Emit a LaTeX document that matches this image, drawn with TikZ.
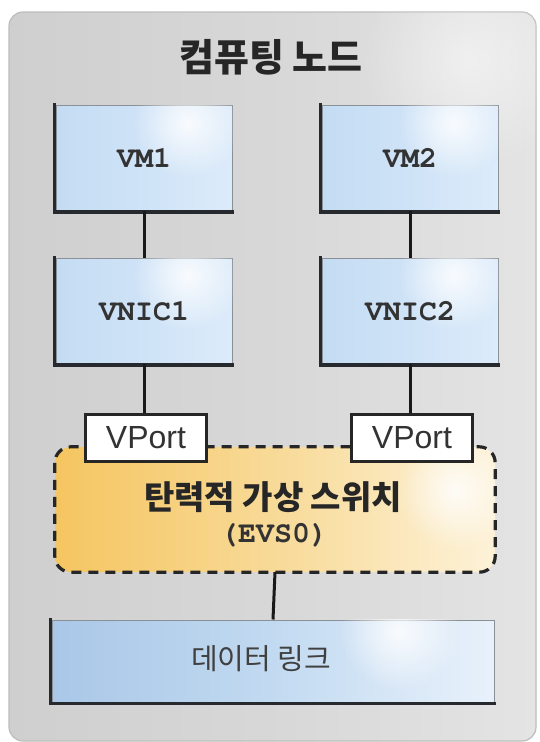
\documentclass[tikz,border=0pt]{standalone}
\usepackage{fontspec}
\newfontfamily\krfont{Noto Sans CJK KR}
\newfontfamily\monofont{TeX Gyre Cursor}
\newfontfamily\labelsans{Liberation Sans}
\usetikzlibrary{fadings}
\tikzfading[name=glowfade, inner color=transparent!0, outer color=transparent!100]
\definecolor{frameedge}{HTML}{BDBDBD}
\definecolor{frameleft}{HTML}{CFCFCF}
\definecolor{frameright}{HTML}{E4E4E4}
\definecolor{vmleft}{HTML}{C4DCF3}
\definecolor{vmmid}{HTML}{CFE3F7}
\definecolor{vmright}{HTML}{DCEBFA}
\definecolor{swleft}{HTML}{F5C560}
\definecolor{swmid}{HTML}{F8DA98}
\definecolor{swright}{HTML}{FDF2D8}
\definecolor{dlleft}{HTML}{A9C7E7}
\definecolor{dlmid}{HTML}{C2DAF1}
\definecolor{dlright}{HTML}{E8F1FB}
\definecolor{edgeline}{HTML}{8A9096}
\definecolor{shadowline}{HTML}{262A2E}
\tikzset{
  vmbox/.style={rectangle, minimum width=176pt, minimum height=105pt,
    left color=vmleft, right color=vmright, middle color=vmmid,
    draw=edgeline, line width=1pt, inner sep=0pt},
  vmlabel/.style={font=\monofont\bfseries\fontsize{30}{33}\selectfont, text=black!80},
  portbox/.style={rectangle, minimum width=121pt, minimum height=47pt,
    fill=white, draw=black!85, line width=3pt, inner sep=0pt,
    font=\labelsans\fontsize{32}{34}\selectfont, text=black!80},
  wire/.style={line width=3pt, black!90},
  shadowedge/.style={line width=3.4pt, draw=shadowline, line cap=rect},
  glow/.style={fill=white, path fading=glowfade, opacity=0.85},
}
\begin{document}
\begin{tikzpicture}[x=1pt, y=-1pt]
\useasboundingbox (0,0) rectangle (539,742);
\fill[white] (0,0) rectangle (539,742);

% compute node frame
\path[left color=frameleft, right color=frameright, middle color=frameleft!60!frameright,
      draw=frameedge, line width=1.2pt, rounded corners=14pt]
  (9,12) rectangle (536,741);
\begin{scope}
  \clip[rounded corners=14pt] (9,12) rectangle (536,741);
  \fill[glow, opacity=0.5] (470,60) circle (110pt);
\end{scope}
\node[font=\krfont\bfseries\fontsize{38}{40}\selectfont, text=black!85] (title) at (271,57) {컴퓨팅 노드};

% virtual machines and their VNICs
\node[vmbox] (vm1) at (144,158) {};
\node[vmbox] (vm2) at (410,158) {};
\node[vmbox] (vnic1) at (144,311) {};
\node[vmbox] (vnic2) at (410,311) {};

% elastic virtual switch
\node[rectangle, rounded corners=16pt, minimum width=440pt, minimum height=125pt,
      left color=swleft, right color=swright, middle color=swmid,
      draw=none, inner sep=0pt] (evs) at (275,509.5) {};
\begin{scope}
  \clip[rounded corners=16pt] (evs.north west) rectangle (evs.south east);
  \fill[glow] (455,490) circle (60pt);
\end{scope}
\draw[rounded corners=16pt, draw=black!85, line width=3.2pt, dash pattern=on 10pt off 7pt]
  (evs.north west) rectangle (evs.south east);

% data link
\node[rectangle, minimum width=442pt, minimum height=82pt,
      left color=dlleft, right color=dlright, middle color=dlmid,
      draw=edgeline, line width=1pt, inner sep=0pt] (dl) at (273,661) {};

% soft highlights near the upper right of the boxes
\foreach \boxname in {vm1,vm2,vnic1,vnic2}{
  \begin{scope}
    \clip (\boxname.north west) rectangle (\boxname.south east);
    \fill[glow] ([xshift=-45pt,yshift=-18pt]\boxname.north east) circle (55pt);
  \end{scope}
}
\begin{scope}
  \clip (dl.north west) rectangle (dl.south east);
  \fill[glow] ([xshift=-95pt,yshift=-12pt]dl.north east) circle (60pt);
\end{scope}

% box labels
\node[vmlabel] (vm1text) at (vm1) {VM1};
\node[vmlabel] (vm2text) at (vm2) {VM2};
\node[vmlabel] (vnic1text) at (vnic1) {VNIC1};
\node[vmlabel] (vnic2text) at (vnic2) {VNIC2};
\node[font=\krfont\bfseries\fontsize{33}{36}\selectfont, text=black!85] (evsname) at (273,497) {탄력적 가상 스위치};
\node[font=\monofont\bfseries\fontsize{30}{32}\selectfont, text=black!80] (evsid) at (274,535) {(EVS0)};
\node[font=\krfont\fontsize{29}{31}\selectfont, text=black!75] (dltext) at (261,659) {데이터 링크};

% virtual ports
\node[portbox] (port1) at (146,438) {VPort};
\node[portbox] (port2) at (412,438) {VPort};

% dark edges along the left and bottom of the boxes
\foreach \boxname in {vm1,vm2,vnic1,vnic2,dl}{
  \path[shadowedge] ([xshift=-1pt]\boxname.north west) -- ([xshift=-1pt,yshift=-1pt]\boxname.south west) -- ([yshift=-1pt]\boxname.south east);
}

% connectors
\draw[wire] (vm1.south) -- (vnic1.north);
\draw[wire] (vm2.south) -- (vnic2.north);
\draw[wire] (vnic1.south) -- (vnic1.south |- port1.north);
\draw[wire] (vnic2.south) -- (vnic2.south |- port2.north);
\draw[wire] (evs.south) -- (dl.north);
\end{tikzpicture}
\end{document}
